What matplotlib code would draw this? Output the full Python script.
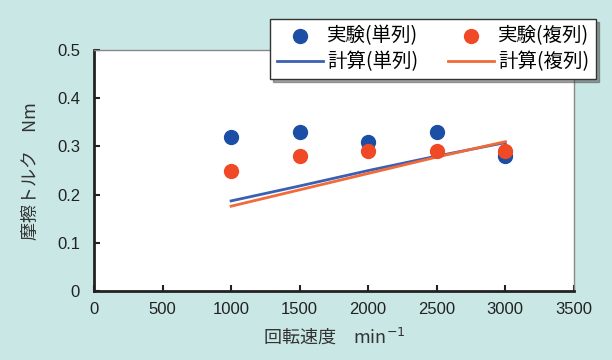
import matplotlib
matplotlib.use("Agg")
import matplotlib.pyplot as plt

plt.rcParams['font.family'] = ['Noto Sans CJK JP', 'DejaVu Sans']

speed = [1000, 1500, 2000, 2500, 3000]
exp_single = [0.32, 0.33, 0.31, 0.33, 0.28]
exp_double = [0.25, 0.28, 0.29, 0.29, 0.29]
calc_single = [0.187, 0.218, 0.250, 0.280, 0.308]
calc_double = [0.176, 0.210, 0.244, 0.278, 0.310]

xticks = [0, 500, 1000, 1500, 2000, 2500, 3000, 3500]
yticks = [0, 0.1, 0.2, 0.3, 0.4, 0.5]
ytick_labels = ['0', '0.1', '0.2', '0.3', '0.4', '0.5']

bg = '#c9e8e5'
blue_pt = '#1d4ea6'
red_pt = '#ef4a25'
blue_ln = '#3b5fb2'
red_ln = '#f06a3a'

fig = plt.figure(figsize=(6.12, 3.6), dpi=100, facecolor=bg)
ax = fig.add_axes([0.1536, 0.1917, 0.784, 0.669])
ax.set_facecolor('white')

ax.plot(speed, calc_single, color=blue_ln, lw=2, label='計算(単列)', zorder=2)
ax.plot(speed, calc_double, color=red_ln, lw=2, label='計算(複列)', zorder=2)
ax.scatter(speed, exp_single, s=100, color=blue_pt, label='実験(単列)', zorder=3)
ax.scatter(speed, exp_double, s=100, color=red_pt, label='実験(複列)', zorder=3)

ax.set_xlim(0, 3500)
ax.set_ylim(0, 0.5)
ax.set_xticks(xticks)
ax.set_xticklabels([str(v) for v in xticks])
ax.set_yticks(yticks)
ax.set_yticklabels(ytick_labels)
ax.tick_params(direction='in', length=4, width=1.5, labelsize=12, colors='#222222', pad=8)
ax.tick_params(axis='y', pad=10)
for lab in ax.get_xticklabels() + ax.get_yticklabels():
    lab.set_family(['Liberation Sans', 'DejaVu Sans'])
for s in ['left', 'bottom']:
    ax.spines[s].set_linewidth(2)
    ax.spines[s].set_color('#222222')
for s in ['top', 'right']:
    ax.spines[s].set_linewidth(1)
    ax.spines[s].set_color('#888888')

ax.set_xlabel('回転速度　min$^{-1}$', fontsize=13, color='#333333', labelpad=6)
ax.set_ylabel('摩擦トルク　Nm', fontsize=13, color='#333333', labelpad=12)

h, l = ax.get_legend_handles_labels()
order = [2, 0, 3, 1]
leg = fig.legend([h[i] for i in order], [l[i] for i in order], ncol=2,
                 loc='upper right', bbox_to_anchor=(0.99, 0.975),
                 fontsize=14, frameon=True, fancybox=False, shadow=True,
                 borderpad=0.35, handlelength=2.4, handletextpad=0.2,
                 columnspacing=1.5, labelspacing=0.25)
leg.get_frame().set_edgecolor('#333333')
leg.get_frame().set_linewidth(1)

fig.savefig('out.png', dpi=100, facecolor=bg)
